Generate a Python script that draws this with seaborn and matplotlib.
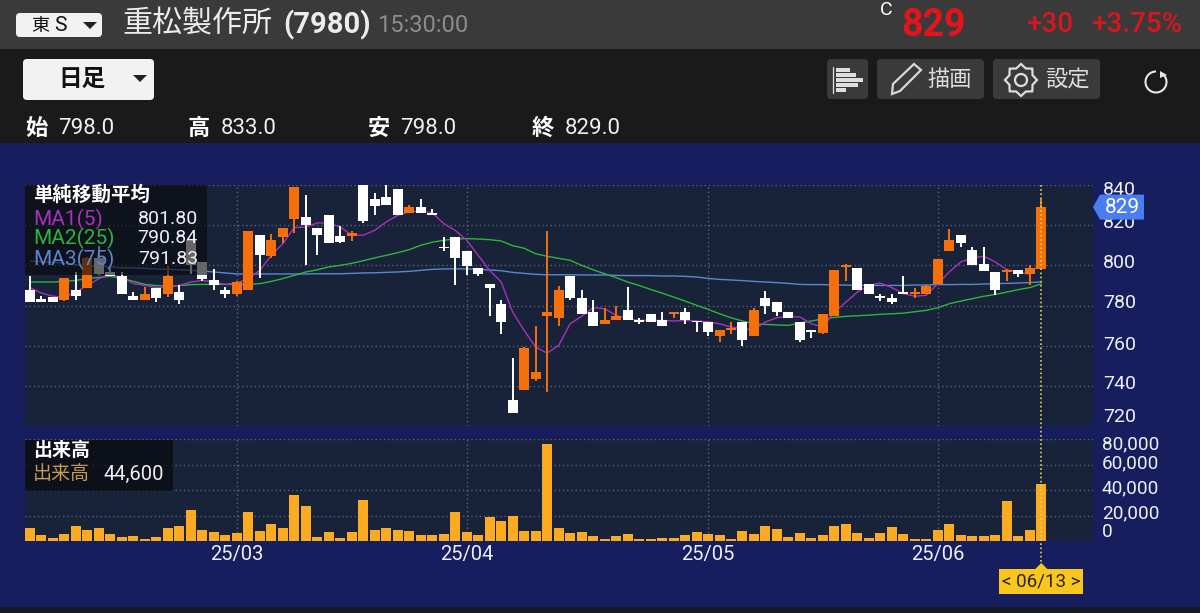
import numpy as np
import pandas as pd
import matplotlib
matplotlib.use('Agg')
import matplotlib.pyplot as plt
from matplotlib.patches import Rectangle, FancyBboxPatch, Polygon, Circle, Arc
import seaborn as sns

# daily candles
opens = [787.9, 783.4, 784, 782.6, 787.9, 788.9, 803.7, 796.8, 794.5, 784.9, 782.9, 788.9, 785.5, 786.9, 812.5,
         801.7, 792.9, 787.9, 785.5, 787.9, 815, 804.7, 814.1, 823.1, 823.9, 818.8, 824.9, 814.8, 814.8, 840,
         832.9, 834, 837.9, 826.1, 829.1, 826.1, 808.9, 814, 807, 798.8, 790.9, 780.9, 732.7, 737.7, 743.5,
         774.8, 773.8, 794.9, 783.9, 776.9, 770.8, 772.8, 777.7, 772.8, 775.7, 772.8, 775.9, 776.9, 772.4, 771.8,
         764.8, 767.8, 771.8, 764.8, 783.9, 781.9, 776.9, 771.8, 767.6, 766.4, 774.8, 799, 798.8, 790.9, 784.7,
         783.9, 786.7, 785.5, 785.9, 790.9, 807, 814.9, 807.8, 800.8, 796.8, 796.8, 797.8, 795.8, 798]
highs = [794.5, 784.6, 784.4, 793.9, 796.7, 804, 809.5, 798.8, 796.6, 786.7, 789.2, 788.9, 799.7, 790, 812.5,
         801.7, 798, 789.2, 792, 816.9, 815, 815.8, 818.8, 839, 835.2, 818.8, 824.9, 819.8, 816.9, 840,
         836, 840, 837.9, 829.9, 832.9, 827.9, 814.1, 814, 807, 798.8, 790.9, 782.6, 753.8, 759.2, 769.8,
         816.9, 789.7, 794.9, 787.9, 782.9, 778.9, 780, 789, 773.9, 775.7, 776.9, 776.6, 778.9, 772.4, 771.8,
         767.9, 771.8, 771.8, 778.6, 787, 781.9, 776.9, 771.8, 767.6, 775.7, 797.8, 800.8, 798.8, 790.9, 785.9,
         785.9, 794.9, 788.9, 790, 803, 817.9, 814.9, 809, 809, 796.8, 798, 797.8, 800, 833]
lows = [781.9, 781.9, 781.9, 782.4, 782.9, 788.5, 795, 794.5, 785.9, 782.9, 782.9, 781.7, 784.2, 780.9, 795.8,
        792, 787.9, 783.9, 784.6, 787.9, 793.9, 803.8, 811.1, 816.3, 800, 805, 811.1, 811.1, 812.1, 821,
        825, 830.2, 825.2, 826.1, 826.1, 825.2, 807, 790, 795, 794.9, 774.8, 765.9, 726.6, 737.7, 742.4,
        736.9, 769.8, 782.6, 775.9, 769.9, 770.8, 772.8, 772.8, 770.9, 771.8, 769.8, 773.9, 770.9, 766.8, 764.8,
        761.8, 766, 759.8, 764.8, 775.9, 774.8, 773.9, 762, 763.8, 765.6, 774.8, 792, 787.9, 785.9, 782,
        780.9, 785.9, 783.9, 785.9, 790.9, 807, 809, 800, 797, 785, 792, 794.2, 790, 798]
closes = [781.9, 781.9, 781.9, 793.9, 784.9, 803.8, 795.8, 794.5, 785.9, 782.9, 785.9, 783.9, 794.5, 782.9, 800,
          793.4, 790, 785.9, 791.7, 816.9, 805, 812.8, 818.8, 839, 820.1, 815.1, 811.1, 811.8, 816.1, 821.9,
          829.4, 830.2, 825.2, 829.1, 826.1, 825.2, 808.5, 803.8, 799.8, 795.8, 788.9, 771.8, 726.6, 758.8, 746.7,
          776.9, 787.7, 783.7, 775.9, 769.9, 772.8, 774.9, 772.8, 772, 771.8, 769.8, 776.6, 772.8, 771.9, 766.8,
          767.9, 768.8, 762.8, 777.9, 779.9, 776.9, 773.9, 762.6, 767, 775.7, 797.8, 800, 787.9, 785.9, 783.7,
          781.9, 785.9, 786.5, 789.7, 803, 812.8, 811.1, 800, 797, 787.9, 797.5, 795.8, 798.8, 829]

ma1 = [788.9, 786.2, 784.6, 784.2, 786.7, 790, 793.4, 795.5, 793.9, 790.9, 790, 788.9, 789.2, 790, 791.7,
       792.5, 791.7, 790.5, 791.2, 793.4, 797.5, 805, 810.8, 818.8, 819.1, 821.1, 821.1, 819.1, 815, 815,
       817.4, 821.6, 824.9, 826.6, 827.1, 826.1, 820.8, 817.4, 812.5, 805, 797.5, 791.7, 776.7, 767.6, 759.3,
       756.3, 760.1, 770.9, 774.6, 778.9, 778.4, 775.1, 773.4, 772.6, 772.6, 772.6, 772.3, 772.6, 772.3, 771.8,
       770.9, 769.3, 768.4, 767.9, 771.8, 773.9, 774.6, 774.3, 770.9, 769.3, 776.7, 781.7, 786.7, 790, 791.2,
       788.9, 785.9, 784.6, 785.1, 790.9, 796.7, 801.7, 803.7, 804.5, 801.7, 797.8, 796.7, 795.5, 801.8]
ma2 = [791.7, 791.7, 791.7, 792, 792.5, 793.4, 794, 794.5, 793.4, 792, 790.5, 789.9, 789.7, 789.9, 790.4,
       790.5, 790.5, 790.5, 790.5, 790.5, 790.9, 792, 793.4, 795, 796.7, 797.8, 799.2, 800, 801, 802.3,
       803.7, 805, 806.3, 807.8, 810, 811.5, 812.5, 813.1, 813.3, 813.1, 812.8, 812.1, 809.8, 808.5, 805.8,
       804.5, 803.5, 802.5, 800, 797.8, 795.8, 793.9, 791.7, 790, 788, 786.2, 784.2, 782.2, 780.1, 778.1,
       775.9, 773.9, 772.3, 770.9, 770.6, 770.3, 770.1, 771.3, 772.3, 773.3, 774.1, 774.6, 774.9, 775.2, 775.6,
       775.9, 776.2, 776.9, 777.6, 778.9, 780.9, 782.2, 783.4, 784.6, 785.5, 786.7, 787.9, 788.9, 790.84]
ma3 = [802.2, 801.8, 801.5, 801, 800.3, 799.8, 799.5, 799.2, 798.8, 798.7, 798.5, 798.2, 798, 797.8, 797.5,
       797.2, 796.7, 796.2, 795.7, 795.7, 795.7, 795.7, 795.7, 795.7, 795.7, 795.8, 795.8, 795.8, 796, 796.2,
       796.3, 796.5, 796.7, 797, 797.5, 798, 798.2, 798.3, 798.2, 798, 797.7, 797.3, 796.5, 796, 795.5,
       795.3, 795.3, 795.3, 795.2, 795.2, 795.2, 795, 794.9, 794.9, 794.9, 794.7, 794.7, 794.5, 794.2, 793.5,
       793, 792.7, 792.4, 792, 791.7, 791.4, 791, 790.5, 790.4, 790.4, 790.2, 790.2, 790, 790, 790,
       790, 790, 790.2, 790.2, 790.4, 790.4, 790.5, 790.5, 790.7, 790.9, 791, 791.2, 791.4, 791.83]
volume = [10300, 4500, 2100, 5800, 11600, 8700, 10000, 5800, 3400, 4000, 1300, 3200, 10000, 12100, 24700,
          8700, 7400, 5000, 6600, 22400, 7900, 13700, 10000, 36000, 27400, 3400, 6800, 2100, 6800, 32100,
          8700, 10500, 8900, 7600, 4500, 4500, 5500, 22400, 7400, 4500, 19200, 15500, 20000, 8200, 7900,
          75800, 10500, 6300, 7100, 4000, 1600, 4000, 5300, 1600, 1300, 2100, 2600, 5000, 7400, 5500,
          4500, 1600, 8200, 5500, 12100, 9700, 2900, 6600, 2400, 4500, 11600, 13700, 6600, 2600, 6600,
          11000, 5500, 1300, 1300, 8700, 13200, 4700, 4200, 3700, 4500, 31000, 4200, 8400, 44600]

month_pos = [18, 38, 59, 79]
month_labels = ['25/03', '25/04', '25/05', '25/06']
price_ticks = [840, 820, 800, 780, 760, 740, 720]
volume_ticks = [80000, 60000, 40000, 20000, 0]
ma_legend = [('MA1(5)', '801.80'), ('MA2(25)', '790.84'), ('MA3(75)', '791.83')]
ohlc_row = [('始', '798.0'), ('高', '833.0'), ('安', '798.0'), ('終', '829.0')]

NAVY = '#161e5e'
PANEL = '#18233a'
GRID = '#56647c'
UP = '#f56f0b'
BAR = '#fbab22'
MA_COLORS = ['#ab2fc0', '#2db53a', '#5b86d0']
TXT = '#eef0f6'

sns.set_theme(style='dark')
plt.rcParams['font.family'] = ['Roboto', 'Noto Sans CJK JP', 'DejaVu Sans']
plt.rcParams['axes.unicode_minus'] = False

df = pd.DataFrame({'i': np.arange(len(closes)), 'open': opens, 'high': highs, 'low': lows, 'close': closes,
                   'ma1': ma1, 'ma2': ma2, 'ma3': ma3, 'volume': volume})

W, H = 1200, 613
fig = plt.figure(figsize=(12, 6.13), dpi=100, facecolor=NAVY)

# page background in pixel coordinates
bg = fig.add_axes([0, 0, 1, 1], zorder=0)
bg.set_xlim(0, W)
bg.set_ylim(H, 0)
bg.axis('off')
bg.add_patch(Rectangle((0, 0), W, 49, color='#3a3a3a', lw=0))
bg.add_patch(Rectangle((0, 49), W, 94, color='#1a1a1a', lw=0))
bg.add_patch(Rectangle((0, 143), W, 464, color=NAVY, lw=0))
bg.add_patch(Rectangle((0, 607), W, 6, color='#141a22', lw=0))

xlim = (-0.435, 92.5)
ax = fig.add_axes([25 / W, 1 - 426 / H, 1068 / W, 241 / H], zorder=1, facecolor=PANEL)
vax = fig.add_axes([25 / W, 1 - 541 / H, 1068 / W, 102 / H], zorder=1, facecolor=PANEL)

# moving averages sit under the candles
for col, c in zip(['ma3', 'ma2', 'ma1'], MA_COLORS[::-1]):
    sns.lineplot(data=df, x='i', y=col, ax=ax, color=c, lw=1.0, errorbar=None, legend=False, zorder=2)

candle_colors = np.where(df['close'] >= df['open'], UP, '#ffffff')
ax.vlines(df['i'], df['low'], df['high'], colors=candle_colors, lw=1.4, zorder=3)
ax.bar(df['i'], (df['close'] - df['open']).abs(), bottom=df[['open', 'close']].min(axis=1), width=0.87,
       color=candle_colors, lw=0, zorder=3)

sns.barplot(data=df, x='i', y='volume', ax=vax, native_scale=True, color=BAR, saturation=1, width=0.87,
            linewidth=0, zorder=3)

ax.set_ylim(720, 840)
vax.set_ylim(0, 80000)
for a in (ax, vax):
    a.set_xlim(*xlim)
    a.set_xlabel('')
    a.set_ylabel('')
    a.set_xticks(month_pos)
    a.grid(True, color=GRID, ls=(0, (1, 2)), lw=1, zorder=1)
    a.set_axisbelow(True)
    for s in a.spines.values():
        s.set_visible(False)
ax.set_yticks(price_ticks)
vax.set_yticks(volume_ticks)
ax.tick_params(length=0, labelbottom=False, labelleft=False)
vax.set_xticklabels(month_labels)
vax.tick_params(axis='x', length=0, labelsize=14.5, labelcolor=TXT, pad=3)
vax.tick_params(axis='y', length=0, labelleft=False)

# axis numbers are nudged off their grid lines so they do not collide
price_nudge = [-5, 2, 2, 2, 1, 2, 9]
for v, dy in zip(price_ticks, price_nudge):
    ax.annotate(str(v), xy=(1, v), xycoords=('axes fraction', 'data'), xytext=(10, dy), textcoords='offset pixels',
                color=TXT, fontsize=14, va='center', annotation_clip=False)
volume_nudge = [-5, 1, 2, 2, 9]
for v, dy in zip(volume_ticks, volume_nudge):
    vax.annotate(f'{v:,}', xy=(1, v), xycoords=('axes fraction', 'data'), xytext=(9, dy), textcoords='offset pixels',
                 color=TXT, fontsize=13.7, va='center', annotation_clip=False)

# overlay in pixel coordinates for legends and app chrome
ui = fig.add_axes([0, 0, 1, 1], zorder=5)
ui.set_xlim(0, W)
ui.set_ylim(H, 0)
ui.axis('off')
ui.patch.set_alpha(0)


def to_ui(a, x, y):
    return ui.transData.inverted().transform(a.transData.transform((x, y)))


def button(x0, y0, x1, y1, color):
    ui.add_patch(FancyBboxPatch((x0 + 3, y0 + 3), x1 - x0 - 6, y1 - y0 - 6, boxstyle='round,pad=3,rounding_size=4',
                                fc=color, ec='none', mutation_aspect=1))


cur_x, _ = to_ui(ax, df['i'].iloc[-1], 800)
ui.plot([cur_x, cur_x], [185, 565], color='#dcd35c', lw=1.2, ls=(0, (1, 1.5)), zorder=4)

# price tag
_, tag_y = to_ui(ax, 0, closes[-1])
ui.add_patch(Polygon([(1093, tag_y), (1100, tag_y - 12.5), (1144, tag_y - 12.5), (1144, tag_y + 12.5),
                      (1100, tag_y + 12.5)], fc='#4b7df2', ec='none', zorder=6))
ui.text(1122, tag_y, '829', color='white', fontsize=15, ha='center', va='center', zorder=7)

# date tag
ui.add_patch(Polygon([(cur_x, 563), (cur_x + 6, 569), (1083, 569), (1083, 594), (999, 594), (999, 569),
                      (cur_x - 6, 569)], fc='#f9c61d', ec='none', zorder=6))
ui.text(1041, 582, '< 06/13 >', color='#2a2410', fontsize=13.5, ha='center', va='center', zorder=7)

# legend boxes
ui.add_patch(Rectangle((25, 185), 182, 90, fc='#08090c', alpha=0.62, lw=0))
ui.text(33, 195, '単純移動平均', color='white', fontsize=14, fontweight='bold', va='center')
for (name, val), c, y in zip(ma_legend, MA_COLORS, [219, 238, 259]):
    ui.text(33, y, name, color=c, fontsize=15, va='center')
    ui.text(198, y, val, color=TXT, fontsize=14, va='center', ha='right')
ui.add_patch(Rectangle((25, 440), 148, 51, fc='#08090c', alpha=0.72, lw=0))
ui.text(33, 451, '出来高', color='white', fontsize=13.7, fontweight='bold', va='center')
ui.text(33, 474, '出来高', color='#c79a55', fontsize=13.7, va='center')
ui.text(164, 474, '44,600', color=TXT, fontsize=14.5, va='center', ha='right')

# header row
button(16, 13, 102, 37, '#f2f2f2')
ui.text(31, 25.5, '東', color='#111111', fontsize=13, va='center')
ui.text(54, 25.5, 'S', color='#111111', fontsize=15, va='center')
ui.add_patch(Polygon([(83, 22), (97, 22), (90, 29)], fc='#222222', ec='none'))
ui.text(122, 24, '重松製作所', color='#ececec', fontsize=21.6, va='center')
ui.text(283, 25, '(7980)', color='#ececec', fontsize=21, fontweight='bold', va='center')
ui.text(377, 25, '15:30:00', color='#8c8c8c', fontsize=17, va='center')
ui.text(880, 10, 'C', color='white', fontsize=14, va='center')
ui.text(901, 25, '829', color='#e5141c', fontsize=27, fontweight='bold', va='center')
ui.text(1026, 25, '+30', color='#d8161c', fontsize=20, fontweight='medium', va='center')
ui.text(1091, 25, '+3.75%', color='#d8161c', fontsize=20, fontweight='medium', va='center')

# toolbar row
button(23, 59, 154, 100, '#f2f2f2')
ui.text(82, 79, '日足', color='#111111', fontsize=17, fontweight='bold', va='center', ha='center')
ui.add_patch(Polygon([(133, 75), (147, 75), (140, 82)], fc='#222222', ec='none'))

button(827, 59, 868, 99, '#3a3a3a')
ui.plot([833, 833], [67, 93], color='#e0e0e0', lw=0.9)
for y, x1 in zip([70, 75, 80, 85, 90], [850, 856, 863, 858, 846]):
    ui.add_patch(Rectangle((836, y - 1.8), x1 - 836, 3.6, fc='#dedede', ec='none'))

button(877, 59, 984, 99, '#3a3a3a')
ui.add_patch(Polygon([(892, 94), (893, 84), (914, 64), (921, 70), (900, 91)], fc='none', ec='#d8d8d8', lw=1.6))
ui.text(950, 80, '描画', color='#dddddd', fontsize=16, va='center', ha='center')

button(993, 59, 1100, 99, '#3a3a3a')
ang = np.linspace(0, 2 * np.pi, 17)[:-1]
rad = np.where(np.arange(16) % 2 == 0, 16, 12.5)
ui.add_patch(Polygon(np.c_[1021 + rad * np.cos(ang), 80 + rad * np.sin(ang)], fc='none', ec='#dddddd', lw=1.6))
ui.add_patch(Circle((1021, 80), 6, fc='none', ec='#dddddd', lw=1.6))
ui.text(1067, 80, '設定', color='#dddddd', fontsize=16, va='center', ha='center')

ui.add_patch(Arc((1156, 82), 21, 21, theta1=-50, theta2=270, color='#e8e8e8', lw=1.5))
ui.add_patch(Polygon([(1160, 71), (1167, 75), (1160, 78)], fc='#e8e8e8', ec='none'))

# OHLC row
for (k, v), xk, xv in zip(ohlc_row, [25, 188, 368, 532], [58, 221, 400, 565]):
    ui.text(xk, 129, k, color='white', fontsize=16, fontweight='bold', va='center')
    ui.text(xv, 129, v, color='#f0f0f0', fontsize=16, va='center')

fig.savefig('out.png', dpi=100, facecolor=fig.get_facecolor())
